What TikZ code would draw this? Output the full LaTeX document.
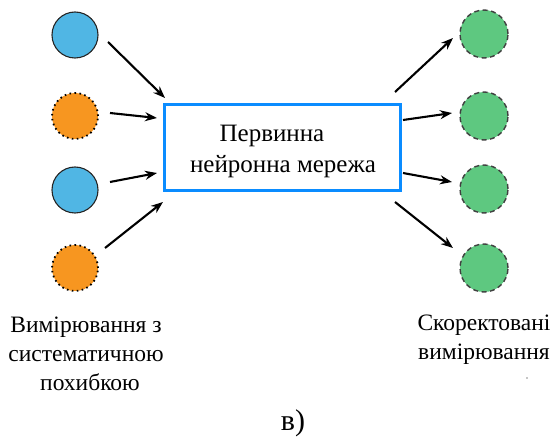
\documentclass[tikz,border=0pt]{standalone}
\usepackage{fontspec}
\setmainfont{Liberation Serif}
\newfontfamily\tnr{Liberation Serif}
\usetikzlibrary{arrows.meta}
\definecolor{cblue}{RGB}{80,182,228}
\definecolor{corange}{RGB}{247,150,32}
\definecolor{cgreen}{RGB}{94,200,128}
\definecolor{cbox}{RGB}{10,140,255}
\begin{document}
\begin{tikzpicture}[x=1pt,y=-1pt,
  inp/.style={circle,inner sep=0pt},
  bluec/.style={inp,minimum size=46pt,fill=cblue,draw=black!85,line width=1.1pt},
  orangec/.style={inp,minimum size=46pt,fill=corange,draw=black,line width=1.8pt,dash pattern=on 1.6pt off 3.4pt},
  greenc/.style={inp,minimum size=48pt,fill=cgreen,draw=black!75,line width=1.4pt,dash pattern=on 5pt off 3.5pt},
  arr/.style={-{Stealth[length=12pt,width=9pt]},line width=2.1pt},
  lbl/.style={font=\tnr\fontsize{23.5}{29}\selectfont,align=center,inner sep=0pt}]
\useasboundingbox (0,0) rectangle (555,441);
% input circles
\node[bluec]   (l1) at (75,35)  {};
\node[orangec] (l2) at (75,116) {};
\node[bluec]   (l3) at (75,190) {};
\node[orangec] (l4) at (75,268) {};
% output circles
\node[greenc] (r1) at (484,34)  {};
\node[greenc] (r2) at (484,116) {};
\node[greenc] (r3) at (484,189) {};
\node[greenc] (r4) at (484,268) {};
% box
\node[draw=cbox,line width=3pt,minimum width=236pt,minimum height=86pt,inner sep=0pt] (box) at (282.5,147.5) {};
\node[lbl,font=\tnr\fontsize{25}{31}\selectfont] (t) at (283,151) {Первинна\hspace*{22pt}\\нейронна мережа};
% arrow end points
\coordinate (a1s) at (108,42);  \coordinate (a1e) at (165,98);
\coordinate (a2s) at (110,113); \coordinate (a2e) at (157,118);
\coordinate (a3s) at (110,182); \coordinate (a3e) at (157,173);
\coordinate (a4s) at (105,248); \coordinate (a4e) at (163,202);
\coordinate (b1s) at (395,92);  \coordinate (b1e) at (453,38);
\coordinate (b2s) at (403,120); \coordinate (b2e) at (452,113);
\coordinate (b3s) at (403,173); \coordinate (b3e) at (452,182);
\coordinate (b4s) at (395,202); \coordinate (b4e) at (453,248);
\foreach \i in {1,2,3,4}{
  \draw[arr] (a\i s) -- (a\i e);
  \draw[arr] (b\i s) -- (b\i e);
}
% labels
\node[lbl,anchor=north] (ll) at (86,317) {Вимірювання з\\систематичною\\\hspace*{8pt}похибкою};
\node[lbl,anchor=north] (rl) at (484,315) {Скоректовані\\вимірювання};
\node[font=\tnr\fontsize{30}{36}\selectfont,inner sep=0pt] (cap) at (293,423) {в)};
\fill[black!45] (527,378) circle (0.9pt);
\end{tikzpicture}
\end{document}
